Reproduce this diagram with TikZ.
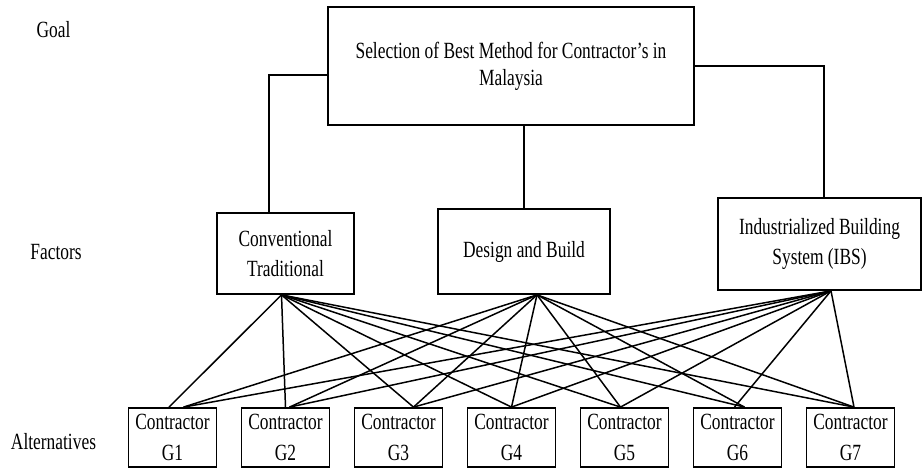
\documentclass[tikz,border=0pt]{standalone}
\usepackage{fontspec}
\setmainfont{Liberation Serif}[FakeStretch=0.75]
\usetikzlibrary{positioning, calc}

\begin{document}
\begin{tikzpicture}[font=\fontsize{13.2}{17}\selectfont, line width=0.85pt,
  box/.style={draw, line width=1pt, align=center, inner sep=2pt},
  goalbox/.style={box, minimum width=7.32cm, minimum height=2.36cm,
                  font=\fontsize{13.2}{15.5}\selectfont},
  factor/.style={box},
  alt/.style={box, minimum width=1.76cm, minimum height=1.18cm,
              font=\fontsize{13.2}{17.5}\selectfont},
  level/.style={font=\fontsize{13.2}{15}\selectfont}]
  \useasboundingbox (0,0) rectangle (18.44,9.36);
  % level labels
  \node[level] (lgoal) at (1.07,8.76){Goal};
  \node[level] (lfact) at (1.12,4.32){Factors};
  \node[level] (lalt) at (1.07,0.52){Alternatives};
  % goal and factors
  \node[goalbox] (goal) at (10.22,8.04){Selection of Best Method for Contractor's in\\ Malaysia};
  \node[factor, minimum width=2.74cm, minimum height=1.62cm] (conv) at (5.71,4.29){Conventional\\ Traditional};
  \node[factor, minimum width=3.44cm, minimum height=1.70cm] (design) at (10.48,4.33){Design and Build};
  \node[factor, minimum width=4.06cm, minimum height=1.84cm] (ibs) at (16.39,4.48){Industrialized Building\\ System (IBS)};
  % alternatives
  \node[alt] (g1) at (3.45,0.61){Contractor\\ G1};
  \node[alt] (g2) at (5.71,0.61){Contractor\\ G2};
  \node[alt] (g3) at (7.97,0.61){Contractor\\ G3};
  \node[alt] (g4) at (10.23,0.61){Contractor\\ G4};
  \node[alt] (g5) at (12.49,0.61){Contractor\\ G5};
  \node[alt] (g6) at (14.75,0.61){Contractor\\ G6};
  \node[alt] (g7) at (17.01,0.61){Contractor\\ G7};
  % goal to factors
  \draw ([yshift=-0.18cm]goal.west) -| ([xshift=-0.33cm]conv.north);
  \draw (goal.east) -| ([xshift=0.09cm]ibs.north);
  \draw (goal.south -| design.north) -- (design.north);
  % factors to alternatives
  \foreach \i/\a/\b/\c in {1/-0.07/0.22/0.22, 2/0/0.08/0.08, 3/0.3/0.3/0.3, 4/0/0/0,
                          5/-0.08/-0.08/-0.08, 6/0.14/0.14/-0.06, 7/0.07/0.07/0.07}{
    \draw ([xshift=-0.08cm]conv.south) -- ([xshift=\a cm]g\i.north);
    \draw ([xshift=0.26cm]design.south) -- ([xshift=\b cm]g\i.north);
    \draw ([xshift=0.23cm]ibs.south) -- ([xshift=\c cm]g\i.north);
  }
\end{tikzpicture}
\end{document}
